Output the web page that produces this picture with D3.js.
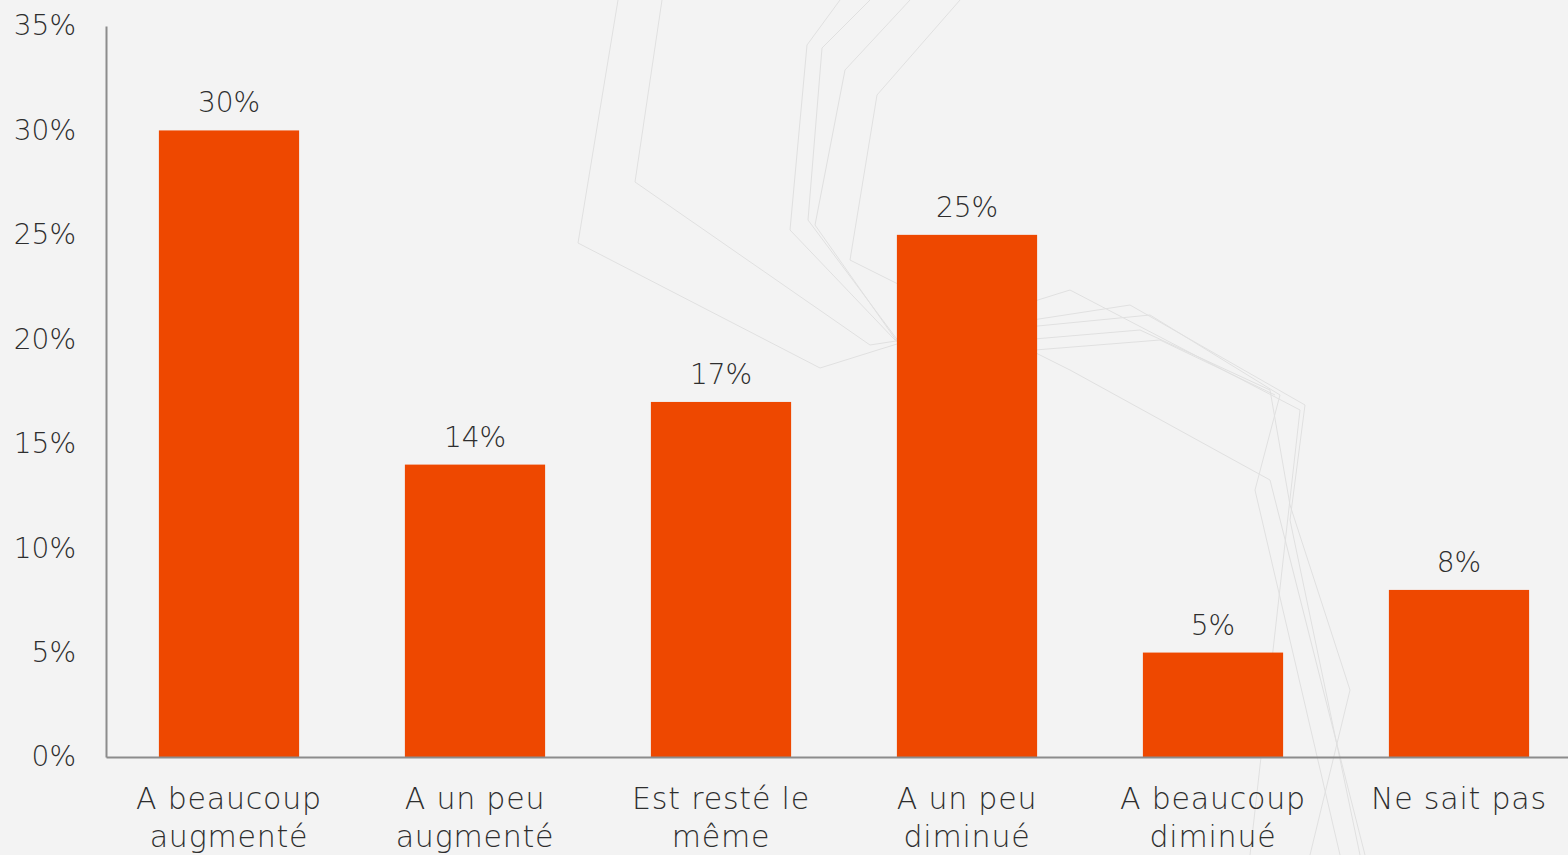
<!DOCTYPE html>
<html>
<head>
<meta charset="utf-8">
<script src="https://cdn.jsdelivr.net/npm/d3@7"></script>
<style>
  html, body { margin: 0; padding: 0; background: #f3f3f3; overflow: hidden; }
  text { font-family: 'DejaVu Sans', sans-serif; fill: #2e2e2e; font-weight: 300; }
</style>
</head>
<body>
<div id="chart"></div>
<script>
const categories = [
  ['A beaucoup', 'augmenté'],
  ['A un peu', 'augmenté'],
  ['Est resté le', 'même'],
  ['A un peu', 'diminué'],
  ['A beaucoup', 'diminué'],
  ['Ne sait pas']
]
const values = [30, 14, 17, 25, 5, 8]
const yTicks = [0, 5, 10, 15, 20, 25, 30, 35]

const width = 1568, height = 855
const margin = { top: 26, left: 106, bottom: 98 }

const svg = d3.select('#chart')
    .append('svg')
    .attr('width', width)
    .attr('height', height)

// faint decorative background lines
const deco = svg.append('g')
    .attr('fill', 'none')
    .attr('stroke', '#e0e0e0')
    .attr('stroke-width', 1)
const decoPaths = [
  [[618, 0], [578, 243], [820, 368], [1070, 290], [1300, 410], [1250, 855]],
  [[662, 0], [635, 182], [870, 345], [1130, 305], [1305, 405], [1290, 520], [1360, 855]],
  [[840, 0], [807, 45], [790, 230], [895, 340], [1150, 315], [1280, 395], [1255, 490], [1340, 855]],
  [[870, 0], [822, 48], [808, 220], [905, 350], [1140, 330], [1270, 390], [1290, 505], [1350, 690], [1310, 855]],
  [[910, 0], [845, 70], [815, 225], [910, 360], [1160, 340], [1275, 395]],
  [[960, 0], [877, 95], [850, 260], [1070, 370], [1270, 480], [1365, 855]]
]
deco.selectAll('path')
    .data(decoPaths)
    .enter().append('path')
    .attr('d', d3.line())

const x = d3.scaleBand()
    .domain(d3.range(categories.length))
    .range([margin.left, margin.left + 246 * categories.length])
    .paddingInner(0.43)
    .paddingOuter(0.215)

const y = d3.scaleLinear()
    .domain([0, 35])
    .range([height - margin.bottom, margin.top])

// bars
svg.append('g')
    .selectAll('rect')
    .data(values)
    .enter().append('rect')
    .attr('x', (d, i) => x(i))
    .attr('y', d => y(d))
    .attr('width', x.bandwidth())
    .attr('height', d => y(0) - y(d))
    .attr('fill', '#ee4800')

// value labels
svg.append('g')
    .selectAll('text')
    .data(values)
    .enter().append('text')
    .attr('x', (d, i) => x(i) + x.bandwidth() / 2)
    .attr('y', d => y(d) - 18)
    .attr('text-anchor', 'middle')
    .attr('font-size', 28)
    .text(d => d + '%')

// y axis
const yAxis = d3.axisLeft(y)
    .tickValues(yTicks)
    .tickSize(0)
    .tickPadding(30)
    .tickFormat(d => d + '%')
const yg = svg.append('g')
    .attr('transform', 'translate(' + margin.left + ',0)')
    .call(yAxis)
yg.select('.domain').attr('stroke', '#8c8c8c').attr('stroke-width', 2)
yg.selectAll('text')
    .attr('font-size', 28)
    .attr('font-family', null)
    .attr('fill', null)

// x axis
const xAxis = d3.axisBottom(x).tickSize(0).tickFormat('')
const xg = svg.append('g')
    .attr('transform', 'translate(0,' + y(0) + ')')
    .call(xAxis)
xg.select('.domain').attr('stroke', '#8c8c8c').attr('stroke-width', 2)

const labels = svg.append('g')
    .selectAll('text')
    .data(categories)
    .enter().append('text')
    .attr('x', (d, i) => x(i) + x.bandwidth() / 2)
    .attr('y', y(0) + 52)
    .attr('text-anchor', 'middle')
    .attr('font-size', 30)
    .attr('letter-spacing', 0.8)
labels.selectAll('tspan')
    .data(d => d)
    .enter().append('tspan')
    .attr('x', function() { return this.parentNode.getAttribute('x') })
    .attr('dy', (d, i) => i === 0 ? 0 : 38)
    .text(d => d)
</script>
</body>
</html>
